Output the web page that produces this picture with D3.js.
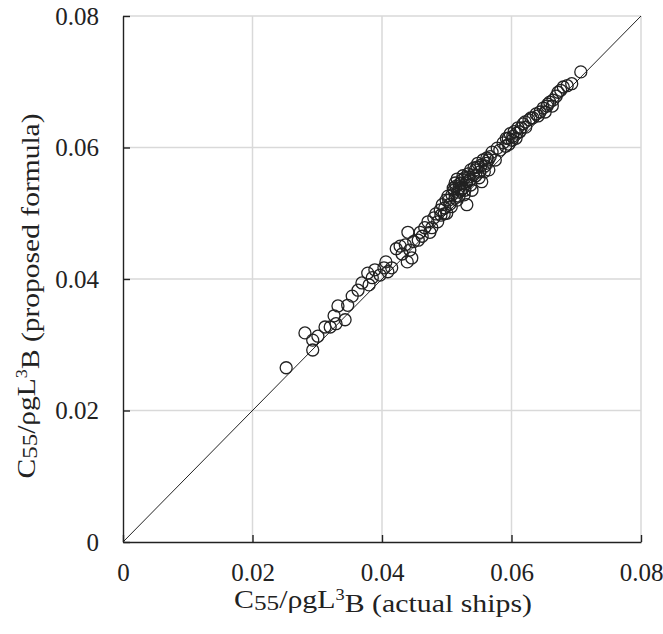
<!DOCTYPE html>
<html>
<head>
<meta charset="utf-8">
<script src="https://cdn.jsdelivr.net/npm/d3@7"></script>
<style>
  body { margin: 0; background: #fff; }
  text { font-family: "Liberation Serif", "Times New Roman", serif; fill: #222; }
</style>
</head>
<body>
<div id="chart"></div>
<script>
// set the dimensions and margins of the graph
var margin = {top: 16, right: 22, bottom: 92, left: 123},
    width = 663 - margin.left - margin.right,
    height = 634 - margin.top - margin.bottom;

// tick values (both axes)
var ticks = [0, 0.02, 0.04, 0.06, 0.08];
var tickLabels = ["0", "0.02", "0.04", "0.06", "0.08"];

// C55/rho g L^3 B, actual ships (x) vs proposed formula (y)
var actual = [
  0.0252, 0.0281, 0.0293, 0.0293, 0.0301, 0.0312, 0.0320, 0.0326, 0.0329, 0.0332,
  0.0343, 0.0347, 0.0354, 0.0363, 0.0369, 0.0378, 0.0380, 0.0385, 0.0389, 0.0397,
  0.0403, 0.0406, 0.0409, 0.0415, 0.0422, 0.0428, 0.0431, 0.0436, 0.0439, 0.0440,
  0.0443, 0.0446, 0.0449, 0.0456, 0.0459, 0.0462, 0.0466, 0.0471, 0.0474, 0.0477,
  0.0480, 0.0483, 0.0486, 0.0490, 0.0493, 0.0496, 0.0499, 0.0502, 0.0505, 0.0508,
  0.0511, 0.0514, 0.0516, 0.0517, 0.0520, 0.0522, 0.0524, 0.0525, 0.0527, 0.0528,
  0.0530, 0.0531, 0.0533, 0.0536, 0.0537, 0.0539, 0.0542, 0.0545, 0.0548, 0.0551,
  0.0554, 0.0556, 0.0559, 0.0562, 0.0565, 0.0570, 0.0575, 0.0578, 0.0582, 0.0587,
  0.0591, 0.0595, 0.0598, 0.0601, 0.0604, 0.0607, 0.0610, 0.0613, 0.0618, 0.0622,
  0.0627, 0.0633, 0.0638, 0.0644, 0.0649, 0.0652, 0.0655, 0.0659, 0.0664, 0.0669,
  0.0672, 0.0676, 0.0680, 0.0686, 0.0693, 0.0707,
  0.0510, 0.0513, 0.0516, 0.0519, 0.0522, 0.0525, 0.0528, 0.0531, 0.0534, 0.0537,
  0.0541, 0.0544, 0.0547, 0.0550, 0.0553, 0.0558, 0.0561, 0.0564, 0.0567, 0.0491,
  0.0497, 0.0500, 0.0503, 0.0507, 0.0513, 0.0519, 0.0592, 0.0596, 0.0602, 0.0608,
  0.0615, 0.0621, 0.0630, 0.0641, 0.0656, 0.0663
];
var proposed = [
  0.0265, 0.0318, 0.0292, 0.0307, 0.0313, 0.0327, 0.0327, 0.0344, 0.0332, 0.0359,
  0.0338, 0.0360, 0.0374, 0.0383, 0.0394, 0.0409, 0.0391, 0.0402, 0.0414, 0.0406,
  0.0417, 0.0426, 0.0411, 0.0417, 0.0446, 0.0450, 0.0438, 0.0452, 0.0426, 0.0471,
  0.0444, 0.0432, 0.0457, 0.0459, 0.0471, 0.0465, 0.0478, 0.0487, 0.0471, 0.0478,
  0.0493, 0.0499, 0.0487, 0.0505, 0.0513, 0.0499, 0.0520, 0.0526, 0.0514, 0.0528,
  0.0535, 0.0541, 0.0520, 0.0532, 0.0545, 0.0535, 0.0551, 0.0538, 0.0528, 0.0554,
  0.0545, 0.0513, 0.0560, 0.0551, 0.0566, 0.0535, 0.0569, 0.0557, 0.0576, 0.0563,
  0.0548, 0.0581, 0.0572, 0.0584, 0.0566, 0.0593, 0.0581, 0.0599, 0.0596, 0.0607,
  0.0602, 0.0614, 0.0621, 0.0611, 0.0624, 0.0614, 0.0630, 0.0624, 0.0636, 0.0631,
  0.0642, 0.0645, 0.0651, 0.0654, 0.0660, 0.0654, 0.0663, 0.0669, 0.0672, 0.0678,
  0.0684, 0.0687, 0.0692, 0.0694, 0.0697, 0.0715,
  0.0538, 0.0546, 0.0552, 0.0538, 0.0546, 0.0557, 0.0535, 0.0548, 0.0555, 0.0543,
  0.0558, 0.0566, 0.0570, 0.0554, 0.0573, 0.0563, 0.0576, 0.0581, 0.0586, 0.0497,
  0.0508, 0.0500, 0.0520, 0.0510, 0.0523, 0.0526, 0.0614, 0.0605, 0.0617, 0.0622,
  0.0630, 0.0639, 0.0645, 0.0648, 0.0666, 0.0663
];

var data = actual.map(function(d, i) { return {x: d, y: proposed[i]}; });

var svg = d3.select("#chart")
    .append("svg")
    .attr("width", width + margin.left + margin.right)
    .attr("height", height + margin.top + margin.bottom)
    .append("g")
    .attr("transform", "translate(" + margin.left + "," + margin.top + ")");

var x = d3.scaleLinear().domain([0, 0.08]).range([0, width]);
var y = d3.scaleLinear().domain([0, 0.08]).range([height, 0]);

// gridlines
svg.append("g").selectAll("line")
    .data(ticks.slice(1)).enter().append("line")
    .attr("x1", d => x(d)).attr("x2", d => x(d))
    .attr("y1", 0).attr("y2", height)
    .style("stroke", "#d9d9d9").style("stroke-width", 1.5);
svg.append("g").selectAll("line")
    .data(ticks.slice(1)).enter().append("line")
    .attr("x1", 0).attr("x2", width)
    .attr("y1", d => y(d)).attr("y2", d => y(d))
    .style("stroke", "#d9d9d9").style("stroke-width", 1.5);

// 1:1 line
svg.append("line")
    .attr("x1", x(0)).attr("y1", y(0))
    .attr("x2", x(0.08)).attr("y2", y(0.08))
    .style("stroke", "#222").style("stroke-width", 1);

// points
svg.append("g").selectAll("circle")
    .data(data).enter().append("circle")
    .attr("cx", d => x(d.x))
    .attr("cy", d => y(d.y))
    .attr("r", 6)
    .style("fill", "none")
    .style("stroke", "#222")
    .style("stroke-width", 1.3);

// axes, ticks pointing inward
var xAxis = svg.append("g")
    .attr("transform", "translate(0," + height + ")")
    .call(d3.axisBottom(x).tickValues(ticks).tickSizeInner(-7).tickSizeOuter(0)
      .tickPadding(21).tickFormat((d, i) => tickLabels[i]));
var yAxis = svg.append("g")
    .call(d3.axisLeft(y).tickValues(ticks).tickSizeInner(-7).tickSizeOuter(0)
      .tickPadding(24).tickFormat((d, i) => tickLabels[i]));

[xAxis, yAxis].forEach(function(a) {
  a.attr("font-family", null).attr("font-size", null);
  a.select(".domain").style("stroke", "#222").style("stroke-width", 1.4);
  a.selectAll(".tick line").style("stroke", "#222").style("stroke-width", 1.4);
  a.selectAll(".tick text")
    .style("font-size", "25px").style("fill", "#222");
});

// axis titles: C55/ρgL³B (...)
function title(sel, suffix) {
  sel.append("tspan").text("C");
  sel.append("tspan").text("55").style("font-size", "22px").attr("dy", "0.1em");
  sel.append("tspan").text("/ρgL").attr("dy", "-0.1em");
  sel.append("tspan").text("3").attr("dy", "-0.45em").style("font-size", "16px");
  sel.append("tspan").text("B " + suffix).attr("dy", "0.45em");
}

var xt = svg.append("text")
    .attr("x", width / 2 + 1)
    .attr("y", height + 66)
    .attr("text-anchor", "middle")
    .attr("textLength", 298)
    .attr("lengthAdjust", "spacingAndGlyphs")
    .style("font-size", "26px");
title(xt, "(actual ships)");

var yt = svg.append("text")
    .attr("transform", "translate(-88," + (height / 2 + 17) + ") rotate(-90)")
    .attr("text-anchor", "middle")
    .attr("textLength", 365)
    .attr("lengthAdjust", "spacingAndGlyphs")
    .style("font-size", "26px");
title(yt, "(proposed formula)");
</script>
</body>
</html>
